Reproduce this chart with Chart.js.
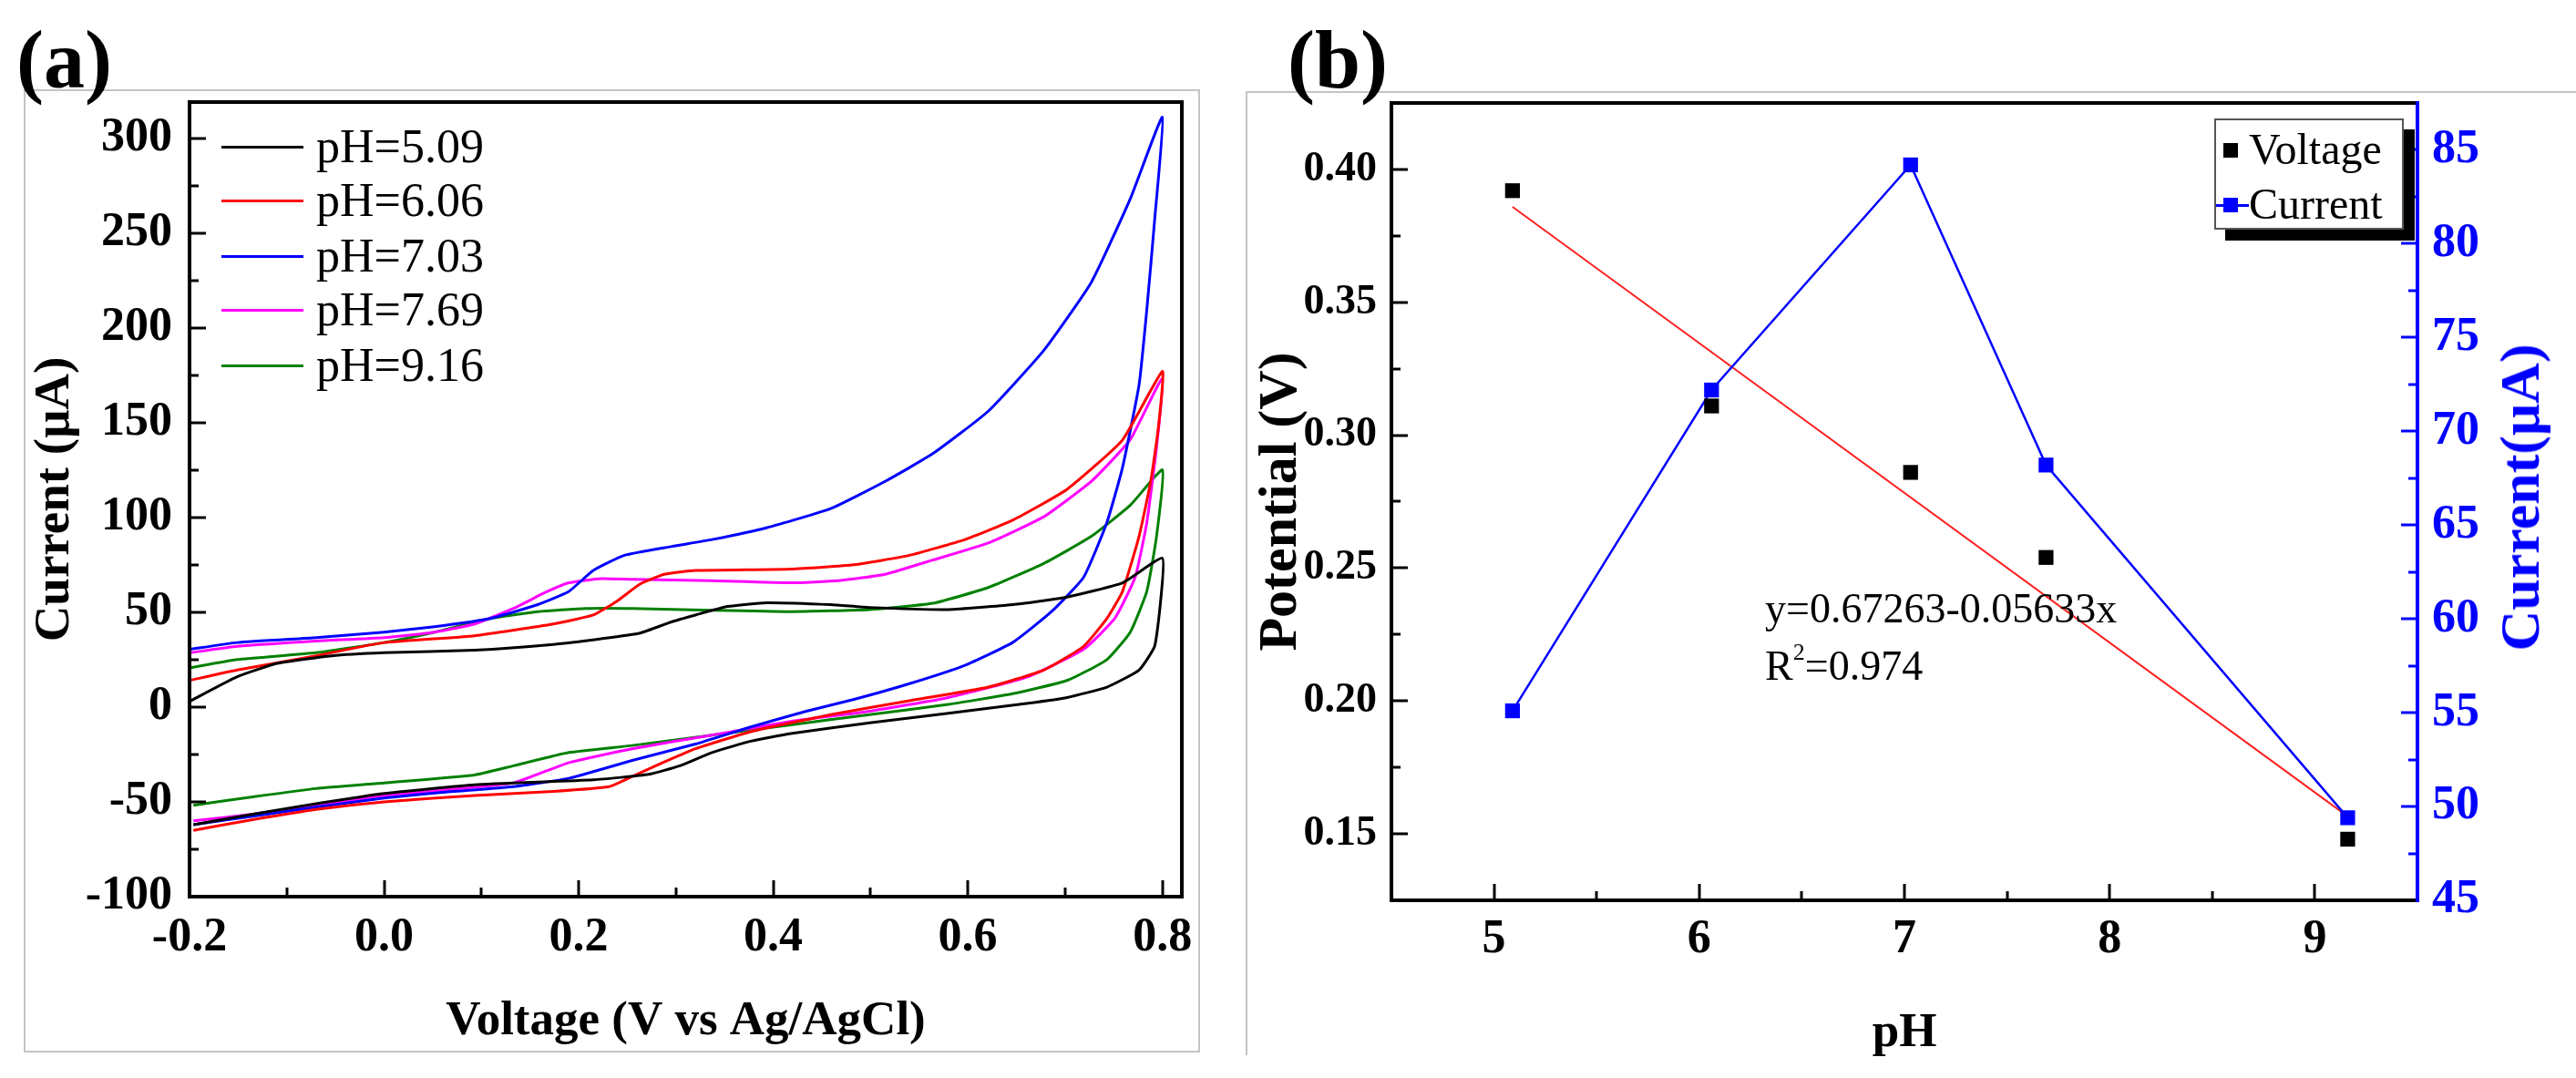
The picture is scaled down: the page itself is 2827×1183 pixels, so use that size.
<!DOCTYPE html>
<html><head><meta charset="utf-8">
<script src="https://cdn.jsdelivr.net/npm/chart.js@4.4.1/dist/chart.umd.min.js"></script>
<style>
html,body{margin:0;padding:0;background:#fff;}
#wrap{position:relative;width:2827px;height:1183px;overflow:hidden;font-family:"Liberation Serif","Times New Roman",serif;color:#000;}
.frame{position:absolute;box-sizing:border-box;}
canvas{position:absolute;top:0;}
.t{position:absolute;white-space:nowrap;line-height:1;}
.panel{font-weight:bold;font-size:90px;}
.leg{font-size:52px;}
.ln{position:absolute;height:3px;width:90px;}
</style></head>
<body><div id="wrap">
<div class="frame" style="left:26px;top:98px;width:1291px;height:1057px;border:2px solid #c4c4c4;"></div>
<div class="frame" style="left:1367px;top:100px;width:1470px;height:1058px;border-left:2px solid #c4c4c4;border-top:2px solid #c4c4c4;"></div>
<canvas id="ca" width="1360" height="1183" style="left:0px"></canvas>
<canvas id="cb" width="1467" height="1183" style="left:1360px"></canvas>
<div class="t panel" style="left:18px;top:21px;">(a)</div>
<div class="t panel" style="left:1413px;top:21px;">(b)</div>
<div id="legA"></div>
<div style="position:absolute;left:2430px;top:130px;width:208px;height:122px;box-sizing:border-box;border:2px solid #555;background:#fff;box-shadow:12px 12px 0 #000;"></div>
<div style="position:absolute;left:2440px;top:157px;width:16px;height:16px;background:#000;"></div>
<div class="t" style="left:2468px;top:140px;font-size:48px;">Voltage</div>
<div style="position:absolute;left:2432px;top:224px;width:36px;height:2.5px;background:#0000ff;"></div>
<div style="position:absolute;left:2440px;top:217px;width:16px;height:16px;background:#0000ff;"></div>
<div class="t" style="left:2468px;top:200px;font-size:48px;">Current</div>
<div class="t" style="left:1937px;top:645px;font-size:46px;">y=0.67263-0.05633x</div>
<div class="t" style="left:1937px;top:708px;font-size:46px;">R<sup style="font-size:26px;vertical-align:22px;line-height:0;">2</sup>=0.974</div>
<div class="t" style="left:2765px;top:546px;font-size:62px;font-weight:bold;color:#0000ff;transform:translate(-50%,-50%) rotate(-90deg);">Current(μA)</div>
</div>
<script>
// ---------- Panel (a): cyclic voltammograms ----------
const seriesNames = ["pH=5.09","pH=6.06","pH=7.03","pH=7.69","pH=9.16"];
const seriesColors = ["#000000","#ff0000","#0000ff","#ff00ff","#008000"];

const v509 = [-0.2,-0.151,-0.11,-0.054,0.0,0.093,0.174,0.223,0.263,0.296,0.32,0.353,0.393,0.459,0.499,0.58,0.646,0.702,0.759,0.8,0.798,0.792,0.776,0.743,0.702,0.662,0.58,0.499,0.418,0.377,0.337,0.304,0.272,0.215,0.093,0.0,-0.07,-0.135,-0.196];
const i509 = [3,16,23,27,28.6,30,33,36,39,45,48.5,53,55,54,52.5,51.4,54,58,65.5,78.5,55,32,19.5,10.5,5,2,-3.3,-8.3,-14,-18,-24,-31,-35.5,-38.4,-41,-45.6,-51,-56.5,-62];

const v606 = [-0.2,-0.151,-0.07,0.0,0.093,0.174,0.215,0.239,0.263,0.288,0.32,0.418,0.483,0.54,0.597,0.646,0.702,0.759,0.8,0.796,0.788,0.776,0.759,0.743,0.719,0.678,0.621,0.54,0.459,0.377,0.32,0.288,0.255,0.231,0.174,0.093,0.0,-0.07,-0.135,-0.196];
const i606 = [14,19.5,27,34,37.6,43.8,48.5,55.7,64.8,70,72,72.8,75,80,88.3,98.5,114.8,140.8,177,148,119,90,61,46.7,32,19.5,10.5,3.3,-4,-13,-22,-29,-36.6,-42,-44.5,-46.7,-50,-54,-59.4,-65];

const v703 = [-0.2,-0.151,-0.07,0.0,0.052,0.109,0.158,0.19,0.215,0.247,0.296,0.337,0.393,0.459,0.515,0.564,0.621,0.678,0.727,0.767,0.8,0.792,0.784,0.776,0.759,0.743,0.719,0.686,0.646,0.597,0.54,0.483,0.434,0.377,0.32,0.255,0.19,0.133,0.06,0.0,-0.07,-0.135,-0.196];
const i703 = [30.4,34,36.6,39.5,42.4,46.7,54,61,72,80,84.7,88.3,94.5,104.6,119,133.6,156,188,224,268,311,256.6,209.6,169.8,126.3,97.4,68.4,50.3,34,22,12.3,4,-2.2,-10.5,-19.5,-28.2,-37.6,-42,-45,-48,-52.8,-57.6,-62];

const v769 = [-0.2,-0.151,-0.07,0.0,0.052,0.093,0.133,0.166,0.19,0.223,0.255,0.337,0.418,0.467,0.515,0.564,0.621,0.678,0.727,0.767,0.8,0.794,0.784,0.772,0.751,0.719,0.662,0.58,0.499,0.418,0.337,0.255,0.19,0.133,0.06,0.0,-0.07,-0.135,-0.196];
const i769 = [28.6,32,34.8,36.6,39.5,43.8,52,60.5,65.5,67.7,67.3,66.6,65.5,66.6,70,77.5,86.5,100.3,119,141,173.4,137,97.4,68.4,46.7,30.4,16,5,-2.2,-7.6,-14.8,-22,-29.3,-40,-43.8,-46.7,-51.8,-56.5,-60];

const v916 = [-0.2,-0.151,-0.07,0.0,0.052,0.109,0.158,0.207,0.255,0.337,0.418,0.499,0.564,0.621,0.678,0.727,0.767,0.8,0.794,0.784,0.767,0.743,0.702,0.646,0.58,0.499,0.418,0.337,0.255,0.19,0.133,0.093,0.0,-0.07,-0.135,-0.196];
const i916 = [20.6,25,28.6,34,39.5,46.7,50.3,52,52,51,50.3,51.4,54.7,63,75.7,90,106.4,125,90,61,39.5,25,14,7,1.4,-4,-9.4,-14.8,-20.3,-24,-31,-35.8,-40,-43,-47.4,-51.8];

const xTicksA = [-0.2,0.0,0.2,0.4,0.6,0.8];
const yTicksA = [-100,-50,0,50,100,150,200,250,300];

// ---------- Panel (b): pH dependence ----------
const pH = [5.09,6.06,7.03,7.69,9.16];
const peakVoltage = [0.392,0.311,0.286,0.254,0.148];
const peakCurrent = [55.1,72.2,84.2,68.2,49.4];
const fitX = [5.09,9.16];
const fitY = [0.3859,0.1566];
const xTicksB = [5,6,7,8,9];
const yTicksB = [0.15,0.20,0.25,0.30,0.35,0.40];
const y2TicksB = [45,50,55,60,65,70,75,80,85];

const SERIF = '"Liberation Serif", "Times New Roman", serif';
const fb = s => ({family: SERIF, size: s, weight: 'bold'});
const mids = arr => arr.slice(0,-1).map((v,i)=>(v+arr[i+1])/2);

const axisPlugin = {
  id: 'axisDeco',
  afterDatasetsDraw(chart, args, opts) {
    const ctx = chart.ctx, ca = chart.chartArea;
    ctx.save();
    ctx.lineCap = 'butt';
    (opts.ticks || []).forEach(a => {
      const s = chart.scales[a.id];
      ctx.strokeStyle = a.color; ctx.lineWidth = 3;
      const draw = (v, len) => {
        const p = Math.round(s.getPixelForValue(v));
        ctx.beginPath();
        if (a.side === 'left') { ctx.moveTo(ca.left, p); ctx.lineTo(ca.left + len, p); }
        else if (a.side === 'right') { ctx.moveTo(ca.right, p); ctx.lineTo(ca.right - len, p); }
        else { ctx.moveTo(p, ca.bottom); ctx.lineTo(p, ca.bottom - len); }
        ctx.stroke();
      };
      a.major.forEach(v => draw(v, 18));
      a.minor.forEach(v => draw(v, 10));
    });
    const fr = opts.frame;
    ctx.lineWidth = 4;
    const side = (c, x1, y1, x2, y2) => { ctx.strokeStyle = c; ctx.beginPath(); ctx.moveTo(x1,y1); ctx.lineTo(x2,y2); ctx.stroke(); };
    side(fr.top, ca.left-2, ca.top, ca.right+2, ca.top);
    side(fr.bottom, ca.left-2, ca.bottom, ca.right+2, ca.bottom);
    side(fr.left, ca.left, ca.top-2, ca.left, ca.bottom+2);
    side(fr.right, ca.right, ca.top-2, ca.right, ca.bottom+2);
    ctx.restore();
  }
};

const cvV = [v509, v606, v703, v769, v916];
const cvI = [i509, i606, i703, i769, i916];

new Chart(document.getElementById('ca'), {
  type: 'scatter',
  data: {
    datasets: seriesNames.map((n, k) => ({
      label: n,
      data: cvV[k].map((v, j) => ({x: v, y: cvI[k][j]})),
      showLine: true, borderColor: seriesColors[k], backgroundColor: seriesColors[k],
      borderWidth: 3, pointRadius: 0, tension: 0.15
    }))
  },
  options: {
    responsive: false, animation: false, devicePixelRatio: 1,
    layout: {padding: {top: 112, right: 63, bottom: 0, left: 0}},
    plugins: {
      legend: {display: false}, tooltip: {enabled: false},
      axisDeco: {
        ticks: [
          {id: 'x', side: 'bottom', color: '#000', major: xTicksA, minor: mids(xTicksA)},
          {id: 'y', side: 'left', color: '#000', major: yTicksA, minor: mids(yTicksA)}
        ],
        frame: {top: '#000', bottom: '#000', left: '#000', right: '#000'}
      }
    },
    scales: {
      x: {
        type: 'linear', min: -0.2, max: 0.82,
        afterFit(s) { s.height = 199; },
        afterBuildTicks(s) { s.ticks = xTicksA.map(v => ({value: v})); },
        ticks: {font: fb(52), color: '#000', padding: 14, maxRotation: 0, autoSkip: false, callback: v => Number(v).toFixed(1)},
        grid: {display: false, drawTicks: false}, border: {display: false},
        title: {display: true, text: 'Voltage (V vs Ag/AgCl)', font: fb(53), color: '#000', padding: {top: 0, bottom: 30}}
      },
      y: {
        type: 'linear', min: -100, max: 319,
        afterFit(s) { s.width = 208; },
        afterBuildTicks(s) { s.ticks = yTicksA.map(v => ({value: v})); },
        ticks: {font: fb(52), color: '#000', padding: 19, autoSkip: false, callback: v => String(v)},
        grid: {display: false, drawTicks: false}, border: {display: false},
        title: {display: true, text: 'Current (μA)', font: fb(55), color: '#000', padding: {top: 28, bottom: 0}}
      }
    }
  },
  plugins: [axisPlugin]
});

new Chart(document.getElementById('cb'), {
  type: 'scatter',
  data: {
    datasets: [
      {label: 'Voltage', data: pH.map((x, j) => ({x, y: peakVoltage[j]})), yAxisID: 'y',
       pointStyle: 'rect', pointRadius: 11.5, backgroundColor: '#000', borderWidth: 0, showLine: false},
      {label: 'Current', data: pH.map((x, j) => ({x, y: peakCurrent[j]})), yAxisID: 'y2',
       pointStyle: 'rect', pointRadius: 11.5, backgroundColor: '#0000ff', borderColor: '#0000ff', pointBorderWidth: 0,
       borderWidth: 2.5, showLine: true, tension: 0},
      {label: 'fit', data: fitX.map((x, j) => ({x, y: fitY[j]})), yAxisID: 'y',
       pointRadius: 0, borderColor: '#ff2020', borderWidth: 2, showLine: true}
    ]
  },
  options: {
    responsive: false, animation: false, devicePixelRatio: 1,
    layout: {padding: {top: 113, right: 0, bottom: 0, left: 0}},
    plugins: {
      legend: {display: false}, tooltip: {enabled: false},
      axisDeco: {
        ticks: [
          {id: 'x', side: 'bottom', color: '#000', major: xTicksB, minor: mids(xTicksB)},
          {id: 'y', side: 'left', color: '#000', major: yTicksB, minor: mids(yTicksB)},
          {id: 'y2', side: 'right', color: '#0000ff', major: y2TicksB, minor: mids(y2TicksB)}
        ],
        frame: {top: '#000', bottom: '#000', left: '#000', right: '#0000ff'}
      }
    },
    scales: {
      x: {
        type: 'linear', min: 4.5, max: 9.5,
        afterFit(s) { s.height = 195; },
        afterBuildTicks(s) { s.ticks = xTicksB.map(v => ({value: v})); },
        ticks: {font: fb(52), color: '#000', padding: 12, maxRotation: 0, autoSkip: false, callback: v => String(v)},
        grid: {display: false, drawTicks: false}, border: {display: false},
        title: {display: true, text: 'pH', font: fb(53), color: '#000', padding: {top: 0, bottom: 17}}
      },
      y: {
        type: 'linear', position: 'left', min: 0.125, max: 0.425,
        afterFit(s) { s.width = 167; },
        afterBuildTicks(s) { s.ticks = yTicksB.map(v => ({value: v})); },
        ticks: {font: fb(46), color: '#000', padding: 16, autoSkip: false, callback: v => Number(v).toFixed(2)},
        grid: {display: false, drawTicks: false}, border: {display: false},
        title: {display: true, text: 'Potential (V)', font: fb(60), color: '#000', padding: {top: 10, bottom: 0}}
      },
      y2: {
        type: 'linear', position: 'right', min: 45, max: 87.5,
        afterFit(s) { s.width = 174; },
        afterBuildTicks(s) { s.ticks = y2TicksB.map(v => ({value: v})); },
        ticks: {font: fb(52), color: '#0000ff', padding: 16, autoSkip: false, callback: v => String(v)},
        grid: {display: false, drawTicks: false}, border: {display: false},
        title: {display: false}
      }
    }
  },
  plugins: [axisPlugin]
});

// legend for panel (a) (HTML)
const legRows = [161, 220, 281, 340, 401];
const legA = document.getElementById('legA');
seriesNames.forEach((n, k) => {
  const ln = document.createElement('div');
  ln.className = 'ln';
  ln.style.left = '243px'; ln.style.top = (legRows[k] - 1.5) + 'px'; ln.style.background = seriesColors[k];
  legA.appendChild(ln);
  const tx = document.createElement('div');
  tx.className = 't leg';
  tx.style.left = '347px'; tx.style.top = (legRows[k] - 26) + 'px';
  tx.textContent = n;
  legA.appendChild(tx);
});
</script>
</body></html>
